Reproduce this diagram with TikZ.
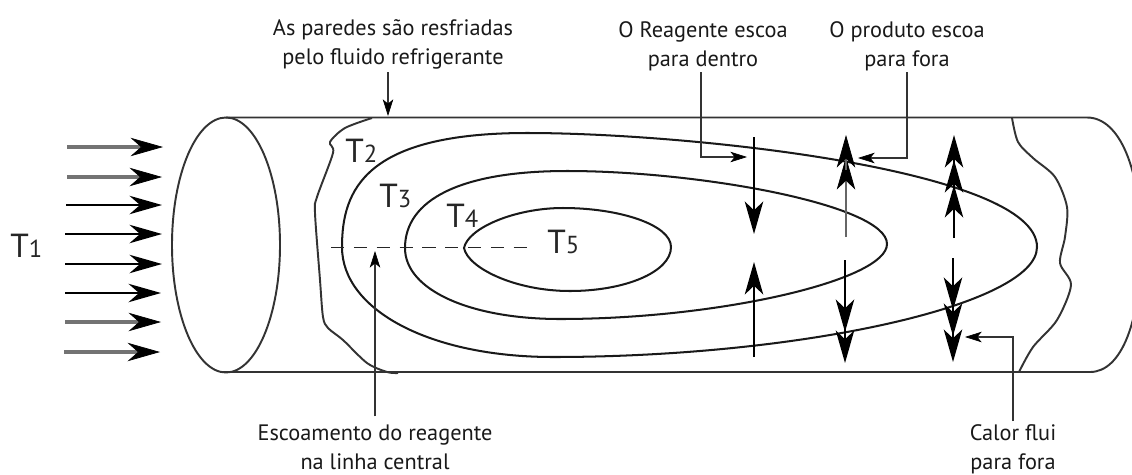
\documentclass[tikz,border=0pt]{standalone}
\usepackage{fontspec}
\setmainfont{PT Sans}
\usetikzlibrary{arrows.meta}
\tikzset{
  wall/.style={line width=1.1pt,draw=black!80},
  contour/.style={line width=1.15pt,draw=black!90},
  inflow/.style={line width=1.1pt,black,-{Stealth[length=18.5pt,width=10.5pt,inset=6pt]}},
  inflowgrey/.style={line width=2.1pt,draw=black!55,-{Stealth[length=18.5pt,width=10.5pt,inset=6pt,color=black,fill=black,line width=0.4pt]}},
  flux/.style={line width=1.1pt,black,-{Stealth[length=18.5pt,width=10.5pt,inset=5pt]}},
  fluxgrey/.style={line width=1.6pt,draw=black!60,-{Stealth[length=18.5pt,width=10.5pt,inset=5pt,color=black,fill=black,line width=0.4pt]}},
  callout/.style={line width=1pt,draw=black!80,-{Stealth[length=9.5pt,width=6pt,inset=2.5pt,color=black,fill=black,line width=0.4pt]}},
  textnote/.style={font=\fontsize{12.7}{16.4}\selectfont,align=center,text=black!90,inner sep=0pt},
  temp/.style={font=\fontsize{19}{19}\selectfont,text=black!85,inner sep=0pt,anchor=base west},
}
\newcommand{\Tsub}[1]{T{\fontsize{14}{14}\selectfont #1}}
\begin{document}
\begin{tikzpicture}[x=0.02cm,y=-0.02cm]
\useasboundingbox (0,0) rectangle (1132,474);
\fill[white] (0,0) rectangle (1132,474);

% Tube body
\begin{scope}
\clip (0,0) rectangle (1132,474);
\draw[wall] (226,245) ellipse [x radius=54,y radius=127.5];
\draw[wall] (226,117.5) -- (1087,117.5)
  .. controls (1120,117.5) and (1141,170) .. (1141,245)
  .. controls (1141,320) and (1122,372) .. (1090,372) -- (220,372);
\end{scope}

% Wavy cooled-wall boundaries
\draw[wall] plot[smooth,tension=0.5] coordinates {
  (372,118) (345,128) (330,142) (333,153) (317,197) (315,213) (320,280)
  (323,317) (328,328) (343,340) (367,363) (387,372) (398,373)};
\draw[wall] plot[smooth,tension=0.5] coordinates {
  (1012,118) (1018,142) (1033,158) (1055,177) (1067,207) (1065,237)
  (1060,263) (1071,285) (1057,320) (1033,347) (1019,372)};

% Isotherms
\draw[contour] (342,247) .. controls (342,190) and (365,133) .. (527,133)
  .. controls (690,133) and (1037,170) .. (1037,247)
  .. controls (1037,305) and (800,357) .. (553,357)
  .. controls (430,357) and (342,310) .. cycle;
\draw[contour] (405,248) .. controls (405,200) and (460,171) .. (567,171)
  .. controls (700,171) and (887,205) .. (887,244)
  .. controls (887,280) and (720,319) .. (560,319)
  .. controls (470,319) and (405,290) .. cycle;
\draw[contour] (464,248) .. controls (468,228) and (515,208) .. (563,208)
  .. controls (620,208) and (671,225) .. (671,247)
  .. controls (671,272) and (625,291) .. (570,291)
  .. controls (515,291) and (468,268) .. cycle;

% Centre line
\coordinate (axisA) at (331,247.5);
\coordinate (axisB) at (528,247.5);
\draw[line width=1pt,black!85,dash pattern=on 7.5pt off 5.5pt] (axisA) -- (axisB);

% Inlet flow
\draw[inflowgrey] (67,147) -- (163,147);
\draw[inflowgrey] (67,177) -- (162,177);
\draw[inflow] (66,205) -- (162,205);
\draw[inflow] (65,234) -- (162,234);
\draw[inflow] (65,264) -- (162,264);
\draw[inflow] (65,293) -- (161,293);
\draw[inflowgrey] (65,322) -- (161,322);
\draw[inflowgrey] (64,352) -- (160,352);

% Reactant and product flux columns
\draw[flux] (754,137) -- (754,234);
\draw[flux] (754,357) -- (754,262);

\draw[fluxgrey] (846,237) -- (846,157);
\draw[fluxgrey] (846,170) -- (846,135);
\draw[flux] (845,260) -- (845,332);
\draw[flux] (845,320) -- (845,363);

\draw[flux] (954,238) -- (954,185);
\draw[flux] (954,195) -- (954,160);
\draw[flux] (954,170) -- (954,135);
\draw[flux] (953,258) -- (953,310);
\draw[flux] (953,300) -- (953,336);
\draw[flux] (953,326) -- (953,362);

% Text labels
\node[textnote] (wallnote) at (393,44) {As paredes são resfriadas\\pelo fluido refrigerante};
\node[textnote] (innote) at (703,46) {O Reagente escoa\\para dentro};
\node[textnote] (outnote) at (907,46) {O produto escoa\\para fora};
\node[textnote] (axisnote) at (375,447) {Escoamento do reagente\\na linha central};
\node[textnote] (heatnote) at (1013,449) {Calor flui\\para fora};

\node[temp] (T1) at (10,257) {\Tsub{1}};
\node[temp] (T2) at (345,162.5) {\Tsub{2}};
\node[temp] (T3) at (379,207.5) {\Tsub{3}};
\node[temp] (T4) at (446,227) {\Tsub{4}};
\node[temp] (T5) at (547,253) {\Tsub{5}};

% Callouts
\coordinate (wallhit) at (388,116);
\coordinate (axishit) at (375,251);
\coordinate (intip) at (747,157);
\coordinate (outtip) at (858,158);
\coordinate (heattip) at (965,337);
\draw[callout] (wallhit |- wallnote.south) ++(0,3) -- (wallhit);
\draw[callout] (axishit |- axisnote.north) ++(0,-8) -- (axishit);
\draw[callout] (701,72) -- (701,157) -- (intip);
\draw[callout] (907,72) -- (907,158) -- (outtip);
\draw[callout] (1013,421) -- (1013,337) -- (heattip);
\end{tikzpicture}
\end{document}
